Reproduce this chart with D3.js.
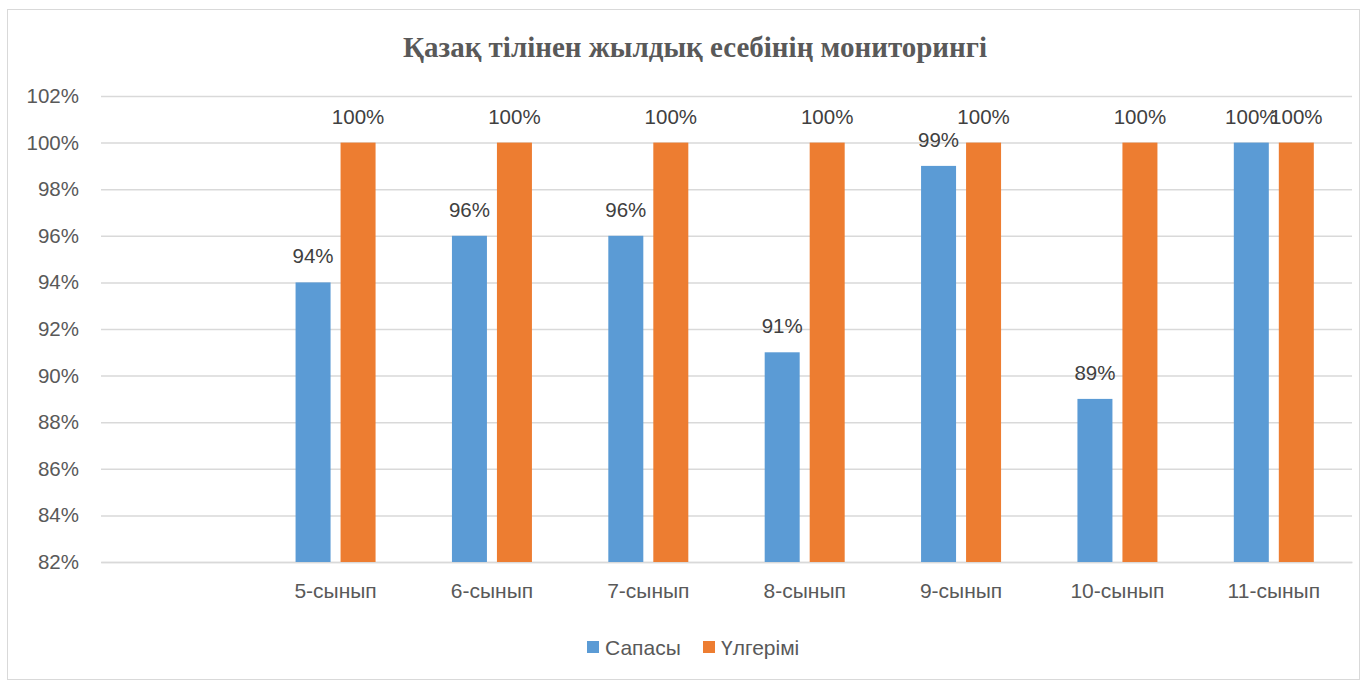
<!DOCTYPE html>
<html><head><meta charset="utf-8">
<script src="https://cdn.jsdelivr.net/npm/d3@7"></script>
<style>body{margin:0;background:#fff}svg{display:block}</style>
</head><body><svg id="c" width="1362" height="682"></svg>
<script>
const categories = ["", "5-сынып", "6-сынып", "7-сынып", "8-сынып", "9-сынып", "10-сынып", "11-сынып"];
const sapasy = [null, 94, 96, 96, 91, 99, 89, 100];
const ulgerimi = [null, 100, 100, 100, 100, 100, 100, 100];
const seriesNames = ["Сапасы", "Үлгерімі"];
const yTicks = [82, 84, 86, 88, 90, 92, 94, 96, 98, 100, 102];
const title = "Қазақ тілінен жылдық есебінің мониторингі";

const colors = ["#5b9bd5", "#ed7d31"];
const svg = d3.select("#c");
const font = "'Liberation Sans', Arial, sans-serif";
const txt = "#595959";

svg.append("rect").attr("x", 7.5).attr("y", 9.5).attr("width", 1352).attr("height", 670)
  .attr("fill", "#fff").attr("stroke", "#d9d9d9");

const m = {l: 101, r: 1352, t: 96, b: 562};
const x = d3.scaleBand().domain(d3.range(categories.length)).range([m.l, m.r]);
const y = d3.scaleLinear().domain([82, 102]).range([m.b, m.t]);

svg.append("text").attr("x", 695).attr("y", 57).attr("text-anchor", "middle")
  .attr("font-family", "'Liberation Serif', 'Times New Roman', serif").attr("font-weight", "bold")
  .attr("font-size", 29).attr("fill", txt).text(title);

const yAxis = d3.axisLeft(y).tickValues(yTicks).tickSize(-(m.r - m.l)).tickFormat(d => d + "%").tickPadding(22);
const ga = svg.append("g").attr("transform", `translate(${m.l},0)`).call(yAxis);
ga.select(".domain").remove();
ga.selectAll(".tick line").attr("stroke", "#d9d9d9").attr("stroke-width", 1.5);
ga.selectAll(".tick text").attr("font-family", font).attr("font-size", 20.5).attr("fill", txt);

const xAxis = d3.axisBottom(x).tickFormat(i => categories[i]).tickSize(0).tickPadding(21);
const gx = svg.append("g").attr("transform", `translate(0,${m.b})`).call(xAxis);
gx.select(".domain").attr("stroke", "#d9d9d9").attr("stroke-width", 1.5);
gx.selectAll(".tick text").attr("font-family", font).attr("font-size", 21).attr("fill", txt);

const bw = 35, gap = 10;
const data = [sapasy, ulgerimi];
data.forEach((arr, s) => {
  const off = s === 0 ? -gap/2 - bw : gap/2;
  arr.forEach((v, i) => {
    if (v == null) return;
    const cx = x(i) + x.bandwidth()/2;
    svg.append("rect").attr("x", cx + off).attr("y", y(v)).attr("width", bw).attr("height", y(82) - y(v))
      .attr("fill", colors[s]);
    svg.append("text").attr("x", cx + off + bw/2).attr("y", y(v) - 19).attr("text-anchor", "middle")
      .attr("font-family", font).attr("font-size", 20.5).attr("fill", "#404040").text(v + "%");
  });
});

const legend = [{x: 587}, {x: 703}];
seriesNames.forEach((n, s) => {
  svg.append("rect").attr("x", legend[s].x).attr("y", 641).attr("width", 12).attr("height", 12).attr("fill", colors[s]);
  svg.append("text").attr("x", legend[s].x + 18).attr("y", 655).attr("font-family", font).attr("font-size", 21)
    .attr("fill", txt).text(n);
});
</script></body></html>
